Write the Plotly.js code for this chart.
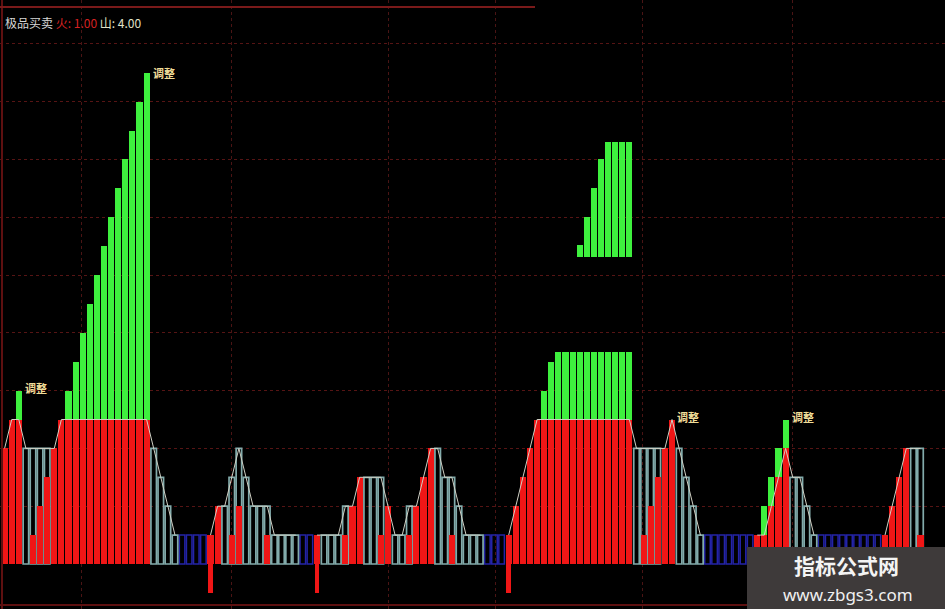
<!DOCTYPE html>
<html><head><meta charset="utf-8">
<script src="https://cdn.plot.ly/plotly-3.0.1.min.js"></script>
<style>html,body{margin:0;padding:0;background:#000;overflow:hidden}#chart{width:945px;height:609px;}</style>
</head><body><div id="chart"></div>
<script>
// ---- data (bar index 0..129, values in indicator levels) ----
const N = 130;
const barIndex = Array.from({length: N}, (_, i) => i);

const redTop = [
  4,5,5,null,1,2,3,4,5,5,
  5,5,5,5,5,5,5,5,5,5,
  5,null,null,null,null,null,null,null,null,1,
  2,null,1,2,null,null,null,1,null,null,
  null,null,null,null,1,null,null,null,1,2,
  3,null,null,1,2,null,null,1,2,3,
  4,null,null,1,null,null,null,null,null,null,
  null,1,2,3,4,5,5,5,5,5,
  5,5,5,5,5,5,5,5,5,null,
  1,2,3,4,5,null,null,null,null,null,
  null,null,null,null,null,null,1,1,2,3,
  4,null,null,null,null,null,null,null,null,null,
  null,null,null,null,1,2,3,4,null,1
];

const redNeg = [];
for (let i = 0; i < N; i++) redNeg.push(null);
const negBars = [29, 44, 71];
const negValue = -1;

const cyanTop = [
  null,null,null,4,4,4,4,null,null,null,
  null,null,null,null,null,null,null,null,null,null,
  null,4,3,2,1,null,null,null,null,null,
  null,2,3,4,3,2,2,2,1,1,
  1,1,null,null,null,1,1,1,2,null,
  null,3,3,3,null,1,1,2,null,null,
  null,4,3,3,2,1,1,1,null,null,
  null,null,null,null,null,null,null,null,null,null,
  null,null,null,null,null,null,null,null,null,4,
  4,4,4,null,null,4,3,2,1,null,
  null,null,null,null,null,null,null,null,null,null,
  null,3,3,2,1,null,null,null,null,null,
  null,null,null,null,null,null,null,null,4,4
];

const blueBars = [25,26,27,28,42,43,68,69,70,99,100,101,102,103,104,105,115,116,117,118,119,120,121,122,123];
const blueValue = 1;

const greenLowBars = [2,9,10,11,12,13,14,15,16,17,18,19,20,76,77,78,79,80,81,82,83,84,85,86,87,88,107,108,109,110];
const greenLowBase = [5,5,5,5,5,5,5,5,5,5,5,5,5,5,5,5,5,5,5,5,5,5,5,5,5,5,1,2,3,4];
const greenLowTop  = [6,6,7,8,9,10,11,12,13,14,15,16,17,6,7,7.35,7.35,7.35,7.35,7.35,7.35,7.35,7.35,7.35,7.35,7.35,2,3,4,5];

const greenHighBars = [81,82,83,84,85,86,87,88];
const greenHighBase = [10.63,10.63,10.63,10.63,10.63,10.63,10.63,10.63];
const greenHighTop  = [11.04,12,13,14,14.6,14.6,14.6,14.6];

const labelText = '调整';
const labelX = [4.4, 22.4, 96.3, 112.5];
const labelY = [6.1, 17.0, 5.1, 5.1];

const dividerX = [10.9, 32.0, 54.1, 69.1, 89.9, 111.0];
const levelTicks = [2,4,6,8,10,12,14,16,18];

// ---- derived ----
negBars.forEach(i => redNeg[i] = negValue);
const blueTop = barIndex.map(i => blueBars.includes(i) ? blueValue : null);
const lineVals = barIndex.map(i => {
  const a = redTop[i], b = cyanTop[i];
  if (a == null && b == null) return null;
  return Math.max(a == null ? -9 : a, b == null ? -9 : b);
});

const traces = [
  {type:'bar', x: barIndex, y: blueTop, width: 0.78,
   marker:{color:'rgba(0,0,0,0)', line:{color:'#2424a8', width:1.5}}, hoverinfo:'skip'},
  {type:'bar', x: barIndex, y: cyanTop, width: 0.78,
   marker:{color:'rgba(0,0,0,0)', line:{color:'#82abab', width:1.7}}, hoverinfo:'skip'},
  {type:'bar', x: barIndex, y: redTop, width: 0.86,
   marker:{color:'#f01616', line:{width:0}}, hoverinfo:'skip'},
  {type:'bar', x: barIndex, y: redNeg, width: 0.7,
   marker:{color:'#f01616', line:{width:0}}, hoverinfo:'skip'},
  {type:'bar', x: greenLowBars, base: greenLowBase,
   y: greenLowTop.map((t, k) => t - greenLowBase[k]), width: 0.86,
   marker:{color:'#3ef03e', line:{width:0}}, hoverinfo:'skip'},
  {type:'bar', x: greenHighBars, base: greenHighBase,
   y: greenHighTop.map((t, k) => t - greenHighBase[k]), width: 0.86,
   marker:{color:'#3ef03e', line:{width:0}}, hoverinfo:'skip'},
  {type:'scatter', mode:'lines', x: barIndex, y: lineVals, connectgaps:false,
   line:{color:'#d0d0c4', width:1}, hoverinfo:'skip'}
];

const annotations = labelX.map((x, k) => ({
  x: x, y: labelY[k], xref:'x', yref:'y', text: '<b>' + labelText + '</b>', showarrow:false,
  font:{family:'Noto Sans CJK SC', size:11, color:'#f0dc98'}, xanchor:'center', yanchor:'middle'
}));

annotations.push({
  xref:'paper', yref:'paper', x: 0.003, y: 1 - 23/609, xanchor:'left', yanchor:'middle', showarrow:false,
  text:'<span style="color:#d6d6d6">极品买卖</span> <span style="color:#d42222">火: 1.00</span> <span style="color:#e2e2c8">山: 4.00</span>',
  font:{family:'Noto Sans CJK SC', size:12, color:'#d6d6d6'}
});
annotations.push({
  xref:'paper', yref:'paper', x: 846/945, y: 1 - 565/609, xanchor:'center', yanchor:'middle', showarrow:false,
  text:'<b>指标公式网</b>', font:{family:'Noto Sans CJK SC', size:21, color:'#f4f4f4'}
});
annotations.push({
  xref:'paper', yref:'paper', x: 848/945, y: 1 - 594/609, xanchor:'center', yanchor:'middle', showarrow:false,
  text:'www.zbgs3.com', font:{family:'Noto Sans', size:17, color:'#f0f0f0'}
});

const shapes = [
  {type:'line', xref:'paper', yref:'paper', x0: 2/945, x1: 2/945, y0: 0, y1: 1, line:{color:'#5e1010', width:2}},
  {type:'line', xref:'paper', yref:'paper', x0: 0, x1: 535/945, y0: 1 - 7/609, y1: 1 - 7/609, line:{color:'#7a1a1a', width:2}},
  {type:'line', xref:'paper', yref:'paper', x0: 0, x1: 1, y0: 1 - 605/609, y1: 1 - 605/609, line:{color:'#5e1010', width:2}},
  {type:'rect', xref:'paper', yref:'paper', x0: 747/945, x1: 1, y0: 0, y1: 1 - 547/609, fillcolor:'#3e3a3a', line:{width:0}, layer:'above'}
];

const layout = {
  width: 945, height: 609,
  margin:{l:0, r:0, t:0, b:0, pad:0},
  paper_bgcolor:'#000', plot_bgcolor:'#000',
  barmode:'overlay', bargap:0, showlegend:false,
  xaxis:{range:[-0.648, 132.45], tickvals: dividerX, showticklabels:false, ticks:'',
         showgrid:true, gridcolor:'#4a1414', griddash:'dot', gridwidth:1, zeroline:false, showline:false, fixedrange:true},
  yaxis:{range:[-1.557, 19.516], tickvals: levelTicks, showticklabels:false, ticks:'',
         showgrid:true, gridcolor:'#561414', griddash:'dot', gridwidth:1, zeroline:false, showline:false, fixedrange:true},
  annotations: annotations,
  shapes: shapes
};

Plotly.newPlot('chart', traces, layout, {displayModeBar:false, staticPlot:true});
</script>
</body></html>
